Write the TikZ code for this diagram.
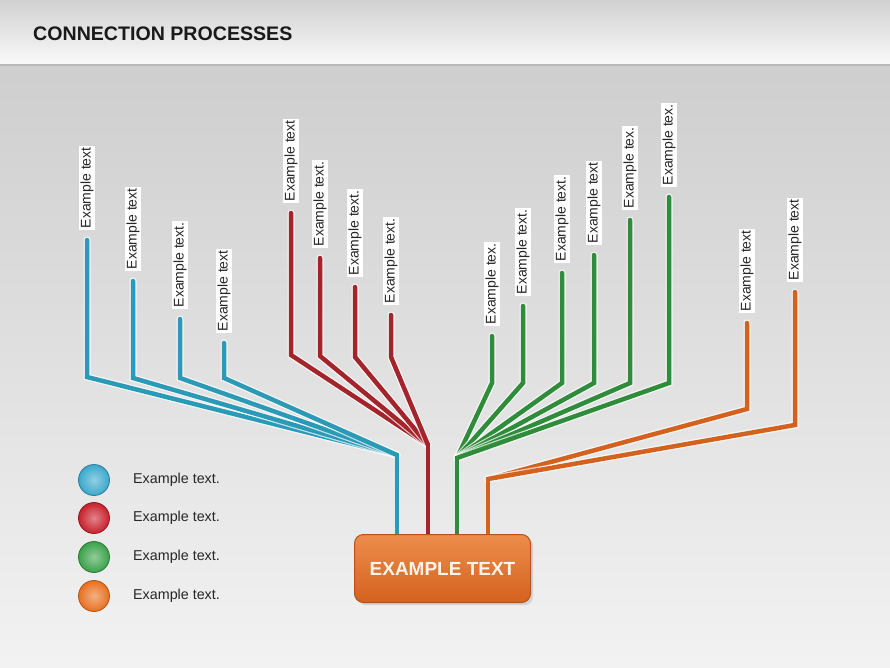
\documentclass[tikz,border=0pt]{standalone}
\usepackage{fontspec}
\setmainfont{Liberation Sans}
\usetikzlibrary{shadows}
\definecolor{cblue}{HTML}{2B9AB6}
\definecolor{cred}{HTML}{A3242B}
\definecolor{cgreen}{HTML}{2F8C3B}
\definecolor{corange}{HTML}{D4621E}
\definecolor{lblue}{HTML}{3AA8CC}
\definecolor{lred}{HTML}{C8202C}
\definecolor{lgreen}{HTML}{3AA24A}
\definecolor{lorange}{HTML}{E8701F}
\pgfdeclarelayer{bg}
\pgfdeclarelayer{wires}
\pgfsetlayers{bg,wires,main}
\tikzset{
  wire/.style={line width=4.5pt, line join=miter, line cap=round},
  halo/.style={line width=7pt, line join=miter, line cap=round, white, opacity=0.7},
  lbl/.style={rotate=90, anchor=west, fill=white, inner sep=1.5pt,
    font=\fontsize{14}{16}\selectfont, text=black!85},
  legtxt/.style={anchor=west, inner sep=0pt, font=\fontsize{14.3}{16}\selectfont, text=black!85},
  legdot/.style={circle, minimum size=31pt, inner sep=0pt, draw=#1!75!black, line width=0.8pt,
    inner color=#1!55!white, outer color=#1},
  mainbox/.style={draw=corange!85!black, line width=1pt, rounded corners=9pt,
    top color=lorange!80!white, bottom color=corange, minimum width=176pt, minimum height=68pt,
    font=\fontsize{19}{22}\selectfont\bfseries, text={orange!8!white}, drop shadow={opacity=0.25}}
}
\begin{document}
\begin{tikzpicture}[x=1pt,y=-1pt]
\useasboundingbox (0,0) rectangle (890,668);
\begin{pgfonlayer}{bg}
  \shade[top color=black!19, bottom color=black!5] (0,66) rectangle (890,668);
  \shade[top color=black!18, bottom color=black!2] (0,0) rectangle (890,65);
  \fill[black!28] (0,64.5) rectangle (890,66.5);
\end{pgfonlayer}
\node[anchor=west, inner sep=0pt, font=\fontsize{19.6}{22}\selectfont\bfseries, text=black!90] (title) at (33,34) {CONNECTION PROCESSES};

% main box
\node[mainbox] (main) at (442.5,568.5) {EXAMPLE TEXT};

% junctions
\coordinate (bj) at (397,455);
\coordinate (rj) at (428,445);
\coordinate (gj) at (457,458);
\coordinate (oj) at (488,479);

% branches: name/x/top/bend/text/junction/colour
\foreach \n/\x/\ty/\by/\txt/\j/\c in {
  b1/87/240/377/Example text/bj/cblue,
  b2/133/281/378/Example text/bj/cblue,
  b3/180/319/378/Example text./bj/cblue,
  b4/224/343/378/Example text/bj/cblue,
  r1/291/213/355/Example text/rj/cred,
  r2/320/258/356/Example text./rj/cred,
  r3/355/287/357/Example text./rj/cred,
  r4/391/315/357/Example text./rj/cred,
  g1/492/336/383/Example tex./gj/cgreen,
  g2/523/306/383/Example text./gj/cgreen,
  g3/562/273/383/Example text./gj/cgreen,
  g4/594/255/383/Example text/gj/cgreen,
  g5/630/220/383/Example tex./gj/cgreen,
  g6/669/197/383/Example tex./gj/cgreen,
  o1/747/323/409/Example text/oj/corange,
  o2/795/292/425/Example text/oj/corange}{
  \coordinate (\n top) at (\x,\ty);
  \coordinate (\n bend) at (\x,\by);
  \node[lbl] (\n lbl) at (\x,\ty-10) {\txt};
  \begin{pgfonlayer}{wires}
    \draw[halo] (\n top) -- (\n bend) -- (\j);
    \draw[wire, \c] (\n top) -- (\n bend) -- (\j);
  \end{pgfonlayer}
}
\begin{pgfonlayer}{wires}
  \foreach \j/\c in {bj/cblue, rj/cred, gj/cgreen, oj/corange}{
    \draw[wire, \c, line cap=butt] ([yshift=2pt]\j) -- (\j |- main.north);
  }
\end{pgfonlayer}

% legend
\foreach \i/\yy/\c in {1/480/lblue, 2/518/lred, 3/557/lgreen, 4/596/lorange}{
  \node[legdot=\c] (dot\i) at (94,\yy) {};
  \node[legtxt] (leg\i) at (133,\yy) {Example text.};
}
\end{tikzpicture}
\end{document}
